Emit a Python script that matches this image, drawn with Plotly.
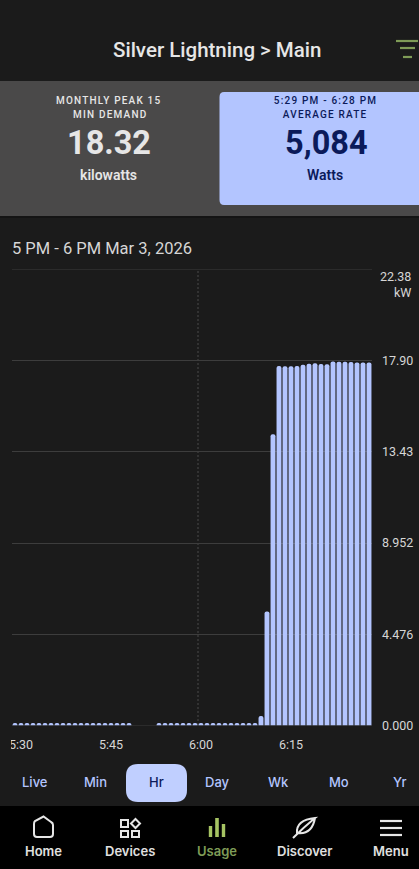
import re
import pandas as pd
import plotly.graph_objects as go

W, H = 419, 869

# one value per minute, 5:29 PM - 6:28 PM, None where the meter has no reading
minutes = pd.date_range('2026-03-03 17:29:30', periods=60, freq='min')
kw_values = [
    0.12, 0.12, 0.12, 0.12, 0.12, 0.12, 0.12, 0.12, 0.12, 0.12,
    0.12, 0.12, 0.12, 0.12, 0.12, 0.12, 0.12, 0.12, 0.12, 0.12,
    None, None, None, None,
    0.12, 0.12, 0.12, 0.12, 0.12, 0.12, 0.12, 0.12, 0.12, 0.12,
    0.12, 0.12, 0.12, 0.12, 0.12, 0.12, 0.12,
    0.47, 5.60, 14.30,
    17.65, 17.63, 17.63, 17.65, 17.71, 17.76, 17.78, 17.74, 17.73,
    17.87, 17.85, 17.85, 17.84, 17.82, 17.82, 17.82,
]
y_ticks = [0, 4.476, 8.952, 13.43, 17.90, 22.38]
y_labels = ['0.000', '4.476', '8.952', '13.43', '17.90', '']
x_ticks = ['2026-03-03 17:30:30', '2026-03-03 17:45:30', '2026-03-03 18:00:30', '2026-03-03 18:15:30']
x_labels = ['5:30', '5:45', '6:00', '6:15']
ranges = ['Live', 'Min', 'Hr', 'Day', 'Wk', 'Mo', 'Yr']
range_x = [35, 95.5, 156, 217, 278, 339, 400]
nav = ['Home', 'Devices', 'Usage', 'Discover', 'Menu']
nav_x = [43, 130, 217, 304, 391]

BG = '#1b1b1b'
PANEL = '#4a4949'
BLUE = '#b3c5ff'
NAVY = '#0b1a5a'
LIGHT = '#e6e6e6'
GREEN = '#7f9c57'
GRID = '#3d3d3d'


def px(x): return x / W
def py(y): return 1 - y / H


def path(cmd):
    # pixel path -> paper path, numbers come in x y pairs
    nums = iter(re.findall(r'[A-Za-z]|-?\d+\.?\d*', cmd))
    out = []
    for tok in nums:
        if tok.isalpha():
            out.append(tok)
        else:
            out.append(f'{px(float(tok)):.5f},{py(float(next(nums))):.5f}')
    return ' '.join(out)


def rect(x0, y0, x1, y1, color, layer='below'):
    return dict(type='rect', xref='paper', yref='paper', x0=px(x0), x1=px(x1), y0=py(y0), y1=py(y1),
                fillcolor=color, line_width=0, layer=layer)


def stroke(cmd, color, width=2.2, fill=None):
    return dict(type='path', xref='paper', yref='paper', path=path(cmd), layer='above',
                line=dict(color=color, width=width), fillcolor=fill or 'rgba(0,0,0,0)')


def hline(value):
    # plotly drops gridlines that sit on the ends of the range
    return dict(type='line', xref='x domain', yref='y', x0=0, x1=1, y0=value, y1=value, layer='below',
                line=dict(color=GRID, width=1))


def label(x, y, text, size, color, weight=400, font='Roboto', anchor='center'):
    return dict(xref='paper', yref='paper', x=px(x), y=py(y), text=text, showarrow=False,
                xanchor=anchor, yanchor='middle', borderpad=0,
                font=dict(family=font, size=size, color=color, weight=weight))


shapes = [
    rect(0, 81, W, 216, PANEL),
    rect(0, 216, W, 218, '#141414'),
    rect(0, 806, W, H, '#000000'),
    dict(type='path', xref='paper', yref='paper', layer='below', line_width=0, fillcolor=BLUE,
         path=path('M 224 92 L 419 92 L 419 205 L 224 205 Q 219.5 205 219.5 200 L 219.5 97 Q 219.5 92 224 92 Z')),
    dict(type='path', xref='paper', yref='paper', layer='below', line_width=0, fillcolor='#c0cfff',
         path=path('M 138 764 L 175 764 Q 187 764 187 776 L 187 790 Q 187 802 175 802 L 138 802 Q 126 802 126 790 L 126 776 Q 126 764 138 764 Z')),
    hline(y_ticks[0]),
    hline(y_ticks[-1]),
    # dashed marker at the top of the hour
    dict(type='line', xref='x', yref='paper', x0='2026-03-03 18:00:00', x1='2026-03-03 18:00:00',
         y0=py(725), y1=py(269), layer='below', line=dict(color='#4a4a4a', width=1, dash='2px,2px')),
    # first tick label is cut by the chart edge
    rect(0, 728, 11, 752, BG, layer='above'),
    # filter icon
    stroke('M 396 41 L 418 41', GREEN), stroke('M 400 48 L 415 48', GREEN), stroke('M 403 57 L 412 57', GREEN),
    # home
    stroke('M 34 824 L 34 834 Q 34 837 37 837 L 50 837 Q 53 837 53 834 L 53 825 Q 53 823 51 822 L 43.5 816.5 L 35 821 Q 34 822 34 824', LIGHT, 2),
    # devices
    stroke('M 121 820 L 128 820 L 128 827 L 121 827 Z', LIGHT, 2),
    stroke('M 121 831 L 128 831 L 128 837 L 121 837 Z', LIGHT, 2),
    stroke('M 132 831 L 139 831 L 139 837 L 132 837 Z', LIGHT, 2),
    stroke('M 135.5 819 L 140 823.5 L 135.5 828 L 131 823.5 Z', LIGHT, 2),
    # usage
    stroke('M 210.5 826 L 210.5 837', '#a6c463', 3.4), stroke('M 217 818 L 217 837', '#a6c463', 3.6),
    stroke('M 223.5 824 L 223.5 837', '#a6c463', 3.4),
    # discover
    stroke('M 293 838 Q 304 827 315 818 Q 296 820 297 833 Q 312 835 315 818', LIGHT, 2),
    # menu
    stroke('M 380 821 L 402 821', LIGHT, 2.2), stroke('M 380 828 L 402 828', LIGHT, 2.2), stroke('M 380 835 L 402 835', LIGHT, 2.2),
]

annotations = [
    label(217, 50, 'Silver Lightning &gt; Main', 20.5, LIGHT, 500),
    label(108.5, 100, 'MONTHLY PEAK 15', 10, LIGHT, 500),
    label(110, 115, 'MIN DEMAND', 10, LIGHT, 500),
    label(108.5, 143, '18.32', 32.5, LIGHT, 700),
    label(108, 175, 'kilowatts', 14, LIGHT, 600),
    label(325.5, 100, '5:29 PM - 6:28 PM', 10, NAVY, 500),
    label(325.5, 115, 'AVERAGE RATE', 10, NAVY, 500),
    label(326, 143, '5,084', 32.5, NAVY, 700),
    label(325, 175, 'Watts', 14, NAVY, 600),
    label(10.5, 248, '5 PM - 6 PM Mar 3, 2026', 16.5, '#d6d6d6', anchor='left'),
    label(412, 276, '22.38', 12.5, '#d6d6d6', anchor='right'),
    label(412, 292, 'kW', 12.5, '#d6d6d6', anchor='right'),
]
for name, x in zip(ranges, range_x):
    annotations.append(label(x, 782, name, 13, NAVY if name == 'Hr' else BLUE, 500, 'Inter'))
for name, x in zip(nav, nav_x):
    annotations.append(label(x, 851, name, 13, GREEN if name == 'Usage' else '#e0e0e0', 600, 'Inter'))

fig = go.Figure(go.Bar(x=minutes, y=kw_values, marker=dict(color=BLUE, line_width=0), hoverinfo='skip'))
fig.update_layout(
    width=W, height=H, margin=dict(l=0, r=0, t=0, b=0), showlegend=False,
    paper_bgcolor=BG, plot_bgcolor=BG, bargap=0.18, barcornerradius=2.5,
    font=dict(family='Roboto', size=12.5, color='#d6d6d6'),
    shapes=shapes, annotations=annotations,
    xaxis=dict(type='date', domain=[px(12), px(372)], range=['2026-03-03 17:29:00', '2026-03-03 18:29:00'],
               automargin=False, tickvals=x_ticks, ticktext=x_labels, showgrid=False, zeroline=False, showline=False,
               ticklen=0, tickfont=dict(size=12.5, color='#d6d6d6'), ticklabelstandoff=10),
    yaxis=dict(domain=[py(725.5), py(269.5)], range=[0, 22.38], side='right', tickvals=y_ticks, ticktext=y_labels,
               automargin=False, showgrid=True, gridcolor=GRID, gridwidth=1, zeroline=False, showline=False,
               ticklen=0, tickfont=dict(size=12.5, color='#d6d6d6'), ticklabelstandoff=9),
)

# small caps labels are letter spaced in the app, plotly has no attribute for it
post = """
document.body.style.margin = '0';
document.querySelectorAll('.annotation-text').forEach(function (t) {
  if (/^[A-Z0-9 :-]+$/.test(t.textContent) && t.textContent.length > 6) {
    t.style.letterSpacing = '1.2px';
  }
});
"""
fig.write_html('out.html', post_script=post, config={'displayModeBar': False})
